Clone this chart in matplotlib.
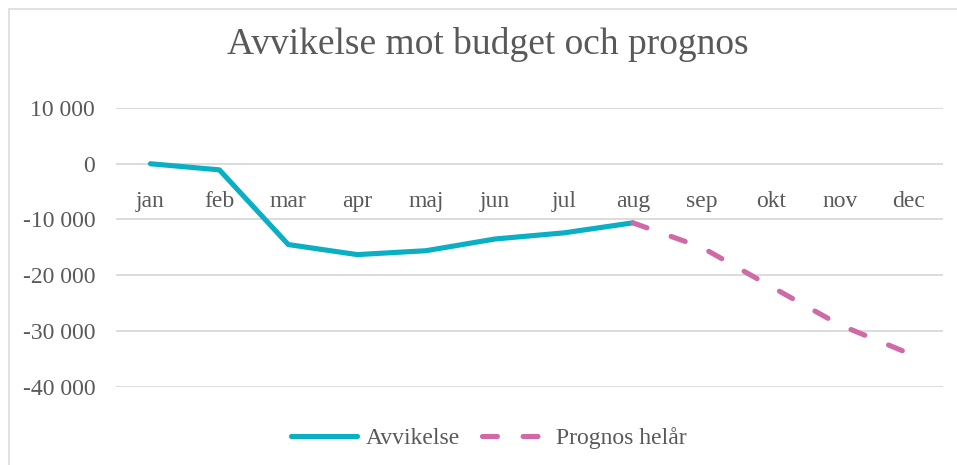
import matplotlib
matplotlib.use('Agg')
import matplotlib.pyplot as plt
from matplotlib.patches import Rectangle
from matplotlib.ticker import FuncFormatter

plt.rcParams['font.family'] = ['Liberation Serif', 'DejaVu Serif']

# data
months = ['jan', 'feb', 'mar', 'apr', 'maj', 'jun', 'jul', 'aug', 'sep', 'okt', 'nov', 'dec']
avvikelse = [0, -1100, -14500, -16300, -15600, -13500, -12400, -10600]
prognos_months = ['aug', 'sep', 'okt', 'nov', 'dec']
prognos = [-10600, -15000, -22000, -28900, -34000]
yticks = [-40000, -30000, -20000, -10000, 0, 10000]

teal = '#0aafc4'
pink = '#d06aa6'
grid = '#d9d9d9'
textc = '#595959'

W, H = 957, 465
fig = plt.figure(figsize=(W / 100, H / 100), dpi=100)
ax = fig.add_axes([116 / W, 1 - 386.7 / H, (943 - 116) / W, (386.7 - 108) / H])

# outer chart frame (cropped at right/bottom)
fig.patches.append(Rectangle((9 / W, -0.1), 1.2, 1 - 9 / H + 0.1, transform=fig.transFigure,
                             fill=False, ec=grid, lw=1.1))

x_avv = [months.index(m) for m in months[:len(avvikelse)]]
x_prog = [months.index(m) for m in prognos_months]

ax.plot(x_avv, avvikelse, color=teal, lw=3.7, solid_capstyle='round', solid_joinstyle='round',
        label='Avvikelse', zorder=3)
ax.plot(x_prog, prognos, color=pink, lw=3.7, dashes=[2.9, 5.0], dash_capstyle='round',
        label='Prognos helår', zorder=3)

ax.set_xlim(-0.5, 11.5)
ax.set_ylim(-40000, 10000)
ax.set_yticks(yticks)
ax.yaxis.set_major_formatter(FuncFormatter(lambda v, p: f'{int(v):,}'.replace(',', ' ')))
ax.grid(axis='y', color=grid, lw=1.3)
ax.set_axisbelow(True)

ax.set_xticks(range(len(months)))
ax.set_xticklabels(months)
ax.spines['bottom'].set_position(('data', 0))
for s in ax.spines.values():
    s.set_visible(False)
ax.tick_params(axis='x', length=0, pad=19.5, labelsize=17, labelcolor=textc)
ax.tick_params(axis='y', length=0, pad=15, labelsize=17, labelcolor=textc)

fig.text(488 / W, 1 - 45 / H, 'Avvikelse mot budget och prognos', ha='center', va='center',
         fontsize=27, color=textc)

leg = fig.legend(loc='center', bbox_to_anchor=(489 / W, 1 - 438 / H), ncol=2, frameon=False,
                 fontsize=17, handlelength=2.8, handletextpad=0.35, columnspacing=0.95)
for t in leg.get_texts():
    t.set_color(textc)

fig.savefig('out.png', dpi=100)
